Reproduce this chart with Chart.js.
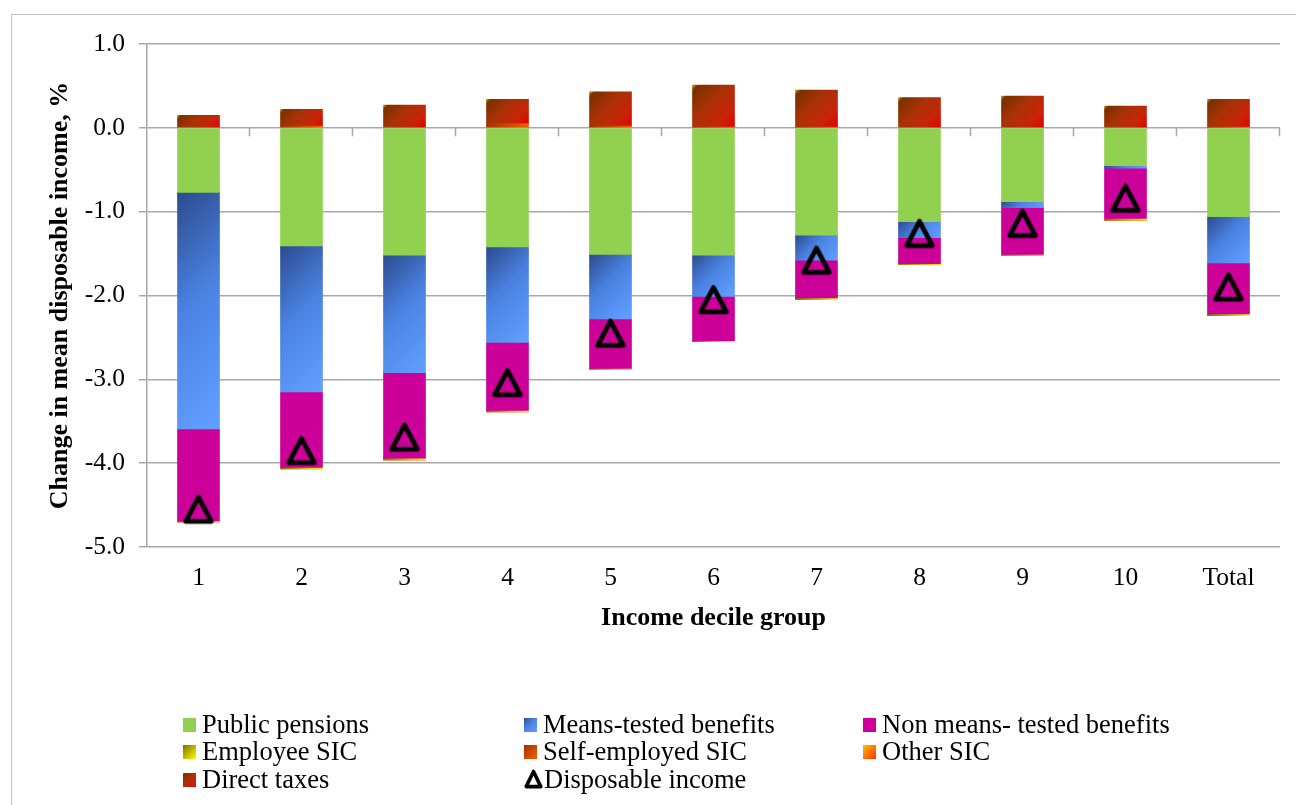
<!DOCTYPE html>
<html>
<head>
<meta charset="utf-8">
<title>Change in mean disposable income by income decile group</title>
<script src="https://cdn.jsdelivr.net/npm/chart.js@4/dist/chart.umd.min.js"></script>
<style>
  html, body { margin: 0; padding: 0; background: #fff; overflow: hidden; }
  #frame { position: absolute; left: 11px; top: 14px; width: 1300px; height: 800px;
           border: 1px solid #c4c4c4; box-sizing: border-box; }
  #wrap { position: absolute; left: 0; top: 0; width: 1296px; height: 805px; }
  #legend { position: absolute; left: 0; top: 0; font-family: 'Liberation Serif', 'Times New Roman', serif;
            font-size: 26.5px; color: #000; }
  .item { position: absolute; line-height: 27px; white-space: nowrap; }
  .box { display: inline-block; width: 13px; height: 14px; margin-right: 6px; margin-bottom: 1px; }
  .tri { display: inline-block; width: 19px; height: 20px; margin-right: 1px; vertical-align: -1px; }
</style>
</head>
<body>
<div id="frame"></div>
<div id="wrap"><canvas id="c"></canvas></div>
<div id="legend"></div>
<script>
// Income decile groups on the category axis
const categories = ['1', '2', '3', '4', '5', '6', '7', '8', '9', '10', 'Total'];

// Contributions to the change in mean disposable income, % (one value per decile group)
const publicPensions   = [-0.77, -1.41, -1.52, -1.42, -1.51, -1.52, -1.28, -1.12, -0.88, -0.45, -1.06];
const meansTested      = [-2.82, -1.74, -1.40, -1.14, -0.77, -0.49, -0.30, -0.19, -0.07, -0.03, -0.55];
const nonMeansTested   = [-1.10, -0.90, -1.02, -0.81, -0.59, -0.53, -0.45, -0.31, -0.56, -0.60, -0.61];
const employeeSIC      = [-0.01, -0.02, -0.02, -0.02, -0.01, -0.01, -0.02, -0.01, -0.01, -0.02, -0.02];
const selfEmployedSIC  = [0.00, 0.02, 0.00, 0.05, 0.02, 0.01, 0.01, 0.00, 0.00, 0.00, 0.01];
const otherSIC         = [0.00, 0.00, 0.00, 0.00, 0.00, 0.00, 0.00, 0.00, 0.00, 0.00, 0.00];
const directTaxes      = [0.15, 0.20, 0.27, 0.29, 0.41, 0.50, 0.44, 0.36, 0.38, 0.26, 0.33];
const disposableIncome = [-4.55, -3.85, -3.69, -3.04, -2.45, -2.05, -1.58, -1.26, -1.14, -0.84, -1.90];

// Value axis range and tick labels
const yMin = -5, yMax = 1, yStep = 1;
const yTickLabels = ['-5.0', '-4.0', '-3.0', '-2.0', '-1.0', '0.0', '1.0'];

const FONT = "'Liberation Serif', 'Times New Roman', serif";
const BAR_W = 42;

// Component series in stacking order, with their fills
const components = [
  { label: 'Public pensions',            data: publicPensions,  flat: '#92d050' },
  { label: 'Means-tested benefits',      data: meansTested,     stops: [[0, '#2c4b8e'], [0.45, '#4a82e2'], [1, '#62a0ff']] },
  { label: 'Non means- tested benefits', data: nonMeansTested,  flat: '#cc0099' },
  { label: 'Employee SIC',               data: employeeSIC,     stops: [[0, '#7d6c00'], [1, '#ffff00']] },
  { label: 'Self-employed SIC',          data: selfEmployedSIC, stops: [[0, '#a33000'], [1, '#f46000']] },
  { label: 'Other SIC',                  data: otherSIC,        stops: [[0, '#ffc000'], [1, '#ff3000']] },
  { label: 'Direct taxes',               data: directTaxes,     stops: [[0, '#c89a00'], [0.07, '#783000'], [0.4, '#a83206'], [0.75, '#c82408'], [1, '#e40000']] }
];

// Pixel rectangle of one stacked bar segment, taken from the chart scales
function segmentRect(chart, dsIndex, i) {
  const v = components[dsIndex].data[i];
  let base = 0;
  for (let k = 0; k < dsIndex; k++) {
    const u = components[k].data[i];
    if ((u < 0) === (v < 0)) base += u;
  }
  const xs = chart.scales.x, ys = chart.scales.y;
  const cx = xs.getPixelForValue(i);
  const y0 = ys.getPixelForValue(base), y1 = ys.getPixelForValue(base + v);
  return { left: cx - BAR_W / 2, top: Math.min(y0, y1), w: BAR_W, h: Math.abs(y1 - y0) };
}

// Diagonal (45 degree) gradient across a bar segment
function gradientFill(comp, dsIndex) {
  return (ctx) => {
    const chart = ctx.chart;
    const fallback = comp.stops[comp.stops.length - 1][1];
    if (ctx.type !== 'data' || !chart.chartArea || !chart.scales.x) return fallback;
    const r = segmentRect(chart, dsIndex, ctx.dataIndex);
    const d = (r.w + r.h) / 2;
    if (d <= 0) return fallback;
    const g = chart.ctx.createLinearGradient(r.left, r.top, r.left + d, r.top + d);
    comp.stops.forEach(([o, c]) => g.addColorStop(o, c));
    return g;
  };
}

// Open triangle marker for disposable income
function triangleMarker(size, halfW, halfH, lw) {
  const c = document.createElement('canvas');
  c.width = size; c.height = size;
  const g = c.getContext('2d');
  const m = size / 2;
  g.strokeStyle = '#000';
  g.lineWidth = lw;
  g.lineJoin = 'round';
  g.beginPath();
  g.moveTo(m, m - halfH);
  g.lineTo(m + halfW, m + halfH);
  g.lineTo(m - halfW, m + halfH);
  g.closePath();
  g.stroke();
  return c;
}

const datasets = components.map((comp, k) => ({
  type: 'bar',
  label: comp.label,
  data: comp.data,
  stack: 'components',
  order: 2,
  backgroundColor: comp.flat ? comp.flat : gradientFill(comp, k),
  borderWidth: 0,
  barThickness: BAR_W
}));

datasets.push({
  type: 'line',
  label: 'Disposable income',
  data: disposableIncome,
  stack: 'total',
  order: 0,
  showLine: false,
  pointStyle: triangleMarker(40, 12.8, 12.2, 4.8),
  pointRadius: 15,
  pointHoverRadius: 15,
  borderColor: '#000',
  backgroundColor: 'rgba(0,0,0,0)'
});

// Short tick marks on the zero line between decile groups
const zeroLineTicks = {
  id: 'zeroLineTicks',
  beforeDatasetsDraw(chart) {
    const xs = chart.scales.x, ys = chart.scales.y;
    const y0 = ys.getPixelForValue(0);
    const n = categories.length;
    const step = (xs.right - xs.left) / n;
    const ctx = chart.ctx;
    ctx.save();
    ctx.strokeStyle = '#a6a6a6';
    ctx.lineWidth = 1.5;
    ctx.beginPath();
    for (let i = 1; i <= n; i++) {
      const x = Math.round(xs.left + i * step) - 0.5;
      ctx.moveTo(x, y0);
      ctx.lineTo(x, y0 + 8.5);
    }
    ctx.stroke();
    ctx.restore();
  }
};

const chart = new Chart(document.getElementById('c'), {
  data: { labels: categories, datasets },
  plugins: [zeroLineTicks],
  options: {
    responsive: true,
    maintainAspectRatio: false,
    animation: false,
    layout: { padding: { left: 45, top: 44, right: 16, bottom: 171.2 } },
    plugins: { legend: { display: false }, tooltip: { enabled: false } },
    scales: {
      x: {
        type: 'category',
        stacked: true,
        offset: true,
        grid: { display: false, drawTicks: false },
        border: { display: false },
        ticks: { color: '#000', font: { family: FONT, size: 25.5 }, padding: 16, maxRotation: 0 },
        title: { display: true, text: 'Income decile group', color: '#000',
                 font: { family: FONT, size: 26, weight: 'bold' }, padding: 0 },
        afterFit(scale) { scale.height = 86.8; }
      },
      y: {
        stacked: true,
        min: yMin, max: yMax,
        grid: { color: '#a8a8a8', lineWidth: 1.5, drawTicks: true, tickLength: 8, tickColor: '#a8a8a8' },
        border: { display: true, color: '#a8a8a8', width: 1.5 },
        ticks: {
          stepSize: yStep,
          color: '#000',
          font: { family: FONT, size: 25.5 },
          padding: 14,
          callback: (value) => yTickLabels[Math.round((value - yMin) / yStep)]
        },
        title: { display: true, text: 'Change in mean disposable income, %', color: '#000',
                 font: { family: FONT, size: 26, weight: 'bold' }, padding: 0 },
        afterFit(scale) { scale.width = 102; }
      }
    }
  }
});

// Legend laid out in three columns below the plot
const legendColumns = [183, 524, 863];
const legendRowsTop = [710.6, 738, 765.6];
const legendEl = document.getElementById('legend');
function cssGradient(comp) {
  if (comp.flat) return comp.flat;
  return 'linear-gradient(135deg, ' + comp.stops.map(([o, c]) => c + ' ' + (o * 100) + '%').join(', ') + ')';
}
const legendEntries = components.map(c => ({ label: c.label, fill: cssGradient(c) }));
legendEntries.push({ label: 'Disposable income', marker: true });
legendEntries.forEach((e, idx) => {
  const div = document.createElement('div');
  div.className = 'item';
  div.style.left = legendColumns[idx % 3] + 'px';
  div.style.top = legendRowsTop[Math.floor(idx / 3)] + 'px';
  if (e.marker) {
    div.innerHTML = '<svg class="tri" viewBox="0 0 19 20"><path d="M9.5 2.5 L16.8 17.6 L2.2 17.6 Z" fill="none" stroke="#000" stroke-width="3.6" stroke-linejoin="round"/></svg>';
  } else {
    const box = document.createElement('span');
    box.className = 'box';
    box.style.background = e.fill;
    div.appendChild(box);
  }
  div.appendChild(document.createTextNode(e.label));
  legendEl.appendChild(div);
});
</script>
</body>
</html>
